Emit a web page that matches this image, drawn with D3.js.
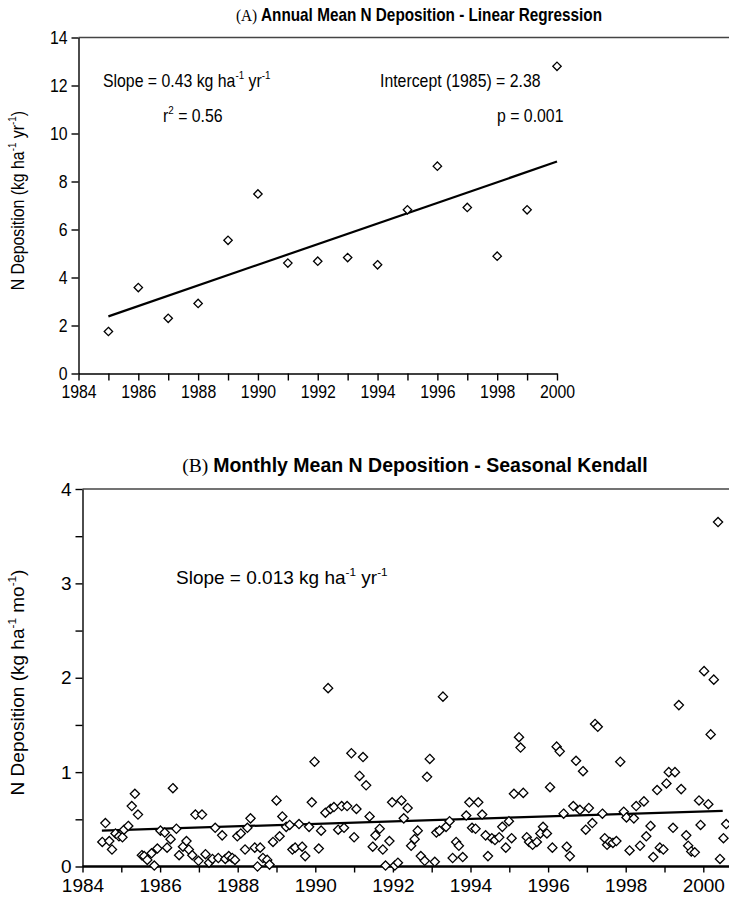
<!DOCTYPE html>
<html>
<head>
<meta charset="utf-8">
<title>N deposition</title>
<script src="https://cdn.jsdelivr.net/npm/d3@7"></script>
<style>
  body { margin: 0; background: #fff; }
  svg { display: block; }
  text { font-family: "Liberation Sans", Arial, sans-serif; fill: #000; }
</style>
</head>
<body>
<script>
// ---- data: annual means (panel A)
const annualYears = [1985, 1986, 1987, 1988, 1989, 1990, 1991, 1992, 1993, 1994, 1995, 1996, 1997, 1998, 1999, 2000];
const annualValues = [1.75, 3.58, 2.30, 2.92, 5.55, 7.48, 4.60, 4.68, 4.83, 4.53, 6.82, 8.64, 6.92, 4.89, 6.82, 12.80];
const trendAYears = [1985, 2000];
const trendAValues = [2.38, 8.83];

// ---- data: monthly means (panel B), decimal year / value
const monthYears = [
  1984.51, 1984.59, 1984.69, 1984.76, 1984.85, 1984.94, 1985.03, 1985.07, 1985.18, 1985.27, 1985.35, 1985.43,
  1985.53, 1985.59, 1985.67, 1985.78, 1985.85, 1985.93, 1986.01, 1986.12, 1986.18, 1986.27, 1986.33, 1986.42,
  1986.49, 1986.59, 1986.68, 1986.74, 1986.83, 1986.91, 1986.99, 1987.08, 1987.17, 1987.26, 1987.35, 1987.42,
  1987.50, 1987.60, 1987.68, 1987.77, 1987.86, 1987.93, 1987.99, 1988.08, 1988.19, 1988.25, 1988.33, 1988.44,
  1988.51, 1988.58, 1988.65, 1988.76, 1988.82, 1988.91, 1989.00, 1989.08, 1989.15, 1989.25, 1989.34, 1989.41,
  1989.48, 1989.58, 1989.66, 1989.74, 1989.84, 1989.91, 1989.98, 1990.09, 1990.15, 1990.26, 1990.33, 1990.39,
  1990.48, 1990.59, 1990.68, 1990.74, 1990.82, 1990.93, 1991.00, 1991.06, 1991.14, 1991.23, 1991.31, 1991.40,
  1991.48, 1991.55, 1991.66, 1991.74, 1991.81, 1991.91, 1991.98, 1992.05, 1992.13, 1992.22, 1992.28, 1992.38,
  1992.47, 1992.56, 1992.64, 1992.72, 1992.82, 1992.88, 1992.95, 1993.08, 1993.12, 1993.20, 1993.29, 1993.37,
  1993.46, 1993.54, 1993.63, 1993.70, 1993.80, 1993.89, 1993.97, 1994.04, 1994.13, 1994.20, 1994.30, 1994.39,
  1994.45, 1994.55, 1994.63, 1994.74, 1994.82, 1994.91, 1994.99, 1995.06, 1995.12, 1995.25, 1995.29, 1995.36,
  1995.45, 1995.51, 1995.60, 1995.71, 1995.80, 1995.87, 1995.97, 1996.05, 1996.11, 1996.22, 1996.30, 1996.40,
  1996.48, 1996.56, 1996.65, 1996.72, 1996.82, 1996.90, 1996.97, 1997.05, 1997.14, 1997.21, 1997.28, 1997.40,
  1997.46, 1997.52, 1997.59, 1997.67, 1997.76, 1997.86, 1997.95, 1998.02, 1998.10, 1998.21, 1998.27, 1998.37,
  1998.47, 1998.53, 1998.64, 1998.71, 1998.81, 1998.88, 1998.97, 1999.05, 1999.11, 1999.22, 1999.27, 1999.37,
  1999.43, 1999.56, 1999.61, 1999.69, 1999.78, 1999.89, 1999.93, 2000.02, 2000.13, 2000.19, 2000.27, 2000.38,
  2000.43, 2000.52, 2000.59
];
const monthValues = [
  0.26, 0.46, 0.27, 0.18, 0.35, 0.32, 0.31, 0.39, 0.43, 0.64, 0.77, 0.55,
  0.12, 0.11, 0.07, 0.14, 0.01, 0.19, 0.38, 0.36, 0.20, 0.29, 0.83, 0.40,
  0.12, 0.21, 0.27, 0.18, 0.12, 0.55, 0.06, 0.55, 0.13, 0.04, 0.08, 0.41,
  0.09, 0.33, 0.08, 0.11, 0.09, 0.07, 0.32, 0.35, 0.18, 0.41, 0.51, 0.20,
  0.00, 0.20, 0.09, 0.07, 0.02, 0.26, 0.70, 0.32, 0.53, 0.42, 0.44, 0.18,
  0.20, 0.45, 0.21, 0.11, 0.42, 0.68, 1.11, 0.19, 0.38, 0.57, 1.89, 0.61,
  0.63, 0.39, 0.64, 0.41, 0.64, 1.20, 0.31, 0.61, 0.96, 1.16, 0.86, 0.53,
  0.21, 0.33, 0.40, 0.18, 0.01, 0.27, 0.68, 0.01, 0.04, 0.70, 0.51, 0.62,
  0.22, 0.29, 0.38, 0.11, 0.06, 0.95, 1.14, 0.05, 0.36, 0.38, 1.80, 0.42,
  0.48, 0.09, 0.26, 0.22, 0.10, 0.54, 0.68, 0.41, 0.40, 0.68, 0.55, 0.33,
  0.11, 0.30, 0.28, 0.31, 0.42, 0.20, 0.48, 0.30, 0.77, 1.37, 1.26, 0.78,
  0.31, 0.26, 0.23, 0.26, 0.35, 0.42, 0.35, 0.84, 0.20, 1.27, 1.22, 0.56,
  0.21, 0.11, 0.64, 1.12, 0.60, 1.01, 0.39, 0.62, 0.46, 1.51, 1.48, 0.56,
  0.30, 0.23, 0.26, 0.25, 0.27, 1.11, 0.58, 0.52, 0.17, 0.51, 0.64, 0.22,
  0.69, 0.32, 0.43, 0.10, 0.81, 0.20, 0.18, 0.88, 1.00, 0.41, 1.00, 1.71,
  0.82, 0.33, 0.22, 0.16, 0.15, 0.70, 0.44, 2.07, 0.66, 1.40, 1.98, 3.65,
  0.08, 0.30, 0.45
];
const trendBYears = [1984.5, 2000.5];
const trendBValues = [0.38, 0.59];

const yearTicks = d3.range(1984, 2001);

const svg = d3.select("body").append("svg")
  .attr("width", 729)
  .attr("height", 902);

// write text with superscript pieces
function richText(sel, parts, size) {
  parts.forEach(function(p) {
    const t = sel.append("tspan").text(p[0]);
    if (p[1] === "up") t.attr("dy", -size * 0.42).attr("font-size", size * 0.62);
    if (p[1] === "down") t.attr("dy", size * 0.42);
  });
}

// panel A text in the scan is tall and narrow: squeeze horizontally
function squeeze(sel, sx) {
  sel.each(function() {
    const t = d3.select(this);
    const x = +t.attr("x") || 0, y = +t.attr("y") || 0;
    t.attr("x", 0).attr("y", 0)
      .attr("transform", "translate(" + x + "," + y + ") scale(" + sx + ",1)");
  });
}

function diamond(r) {
  return "M0," + (-r) + "L" + r + ",0L0," + r + "L" + (-r) + ",0Z";
}

// ================= Panel A =================
const fA = 18, sxA = 0.88;
const xA = d3.scaleLinear().domain([1984, 2000]).range([78.5, 557]);
const yA = d3.scaleLinear().domain([0, 14]).range([373.5, 37.5]);
const gA = svg.append("g");

const tA = gA.append("text").attr("x", 419).attr("y", 21).attr("text-anchor", "middle");
tA.append("tspan").attr("font-family", "Liberation Serif, Times New Roman, serif").attr("font-size", 17.5).text("(A) ");
tA.append("tspan").attr("font-weight", "bold").attr("font-size", 17.5).text("Annual Mean N Deposition - Linear Regression");
squeeze(tA, 0.875);

gA.append("line").attr("x1", xA(1984)).attr("x2", 729)
  .attr("y1", yA(14)).attr("y2", yA(14))
  .attr("stroke", "#444").attr("stroke-width", 1.5);

gA.append("g")
  .attr("transform", "translate(" + xA(1984) + ",0)")
  .call(d3.axisLeft(yA).tickValues(d3.range(0, 15, 2)).tickSize(7).tickSizeOuter(0).tickPadding(4))
  .call(function(g) {
    g.selectAll("text").attr("font-size", fA).attr("font-family", "Liberation Sans, Arial, sans-serif");
    g.selectAll("line, path").attr("stroke", "#000").attr("stroke-width", 1.4);
    squeeze(g.selectAll("text"), sxA);
  });

gA.append("g")
  .attr("transform", "translate(0," + yA(0) + ")")
  .call(d3.axisBottom(xA).tickValues(yearTicks).tickSize(7).tickSizeOuter(0).tickPadding(5)
    .tickFormat(function(d) { return d % 2 === 0 ? d : ""; }))
  .call(function(g) {
    g.selectAll("text").attr("font-size", fA).attr("font-family", "Liberation Sans, Arial, sans-serif");
    g.selectAll("line, path").attr("stroke", "#000").attr("stroke-width", 1.4);
    squeeze(g.selectAll("text"), sxA);
  });

const ytA = gA.append("text")
  .attr("transform", "translate(24," + yA(7.2) + ") rotate(-90) scale(" + sxA + ",1)")
  .attr("text-anchor", "middle").attr("font-size", fA);
richText(ytA, [["N Deposition (kg ha", ""], ["-1", "up"], [" yr", "down"], ["-1", "up"], [")", "down"]], fA);

gA.append("line")
  .attr("x1", xA(trendAYears[0])).attr("y1", yA(trendAValues[0]))
  .attr("x2", xA(trendAYears[1])).attr("y2", yA(trendAValues[1]))
  .attr("stroke", "#000").attr("stroke-width", 2.2);

gA.selectAll("path.pt")
  .data(annualYears)
  .enter().append("path")
  .attr("class", "pt")
  .attr("d", diamond(4.2))
  .attr("transform", function(d, i) { return "translate(" + xA(d) + "," + yA(annualValues[i]) + ")"; })
  .attr("fill", "#fff").attr("stroke", "#000").attr("stroke-width", 1.3);

const sA = gA.append("text").attr("x", 103).attr("y", 87).attr("font-size", fA);
richText(sA, [["Slope = 0.43 kg ha", ""], ["-1", "up"], [" yr", "down"], ["-1", "up"]], fA);
const iA = gA.append("text").attr("x", 380).attr("y", 87).attr("font-size", fA).text("Intercept (1985) = 2.38");
const rA = gA.append("text").attr("x", 163).attr("y", 122).attr("font-size", fA);
richText(rA, [["r", ""], ["2", "up"], [" = 0.56", "down"]], fA);
const pA = gA.append("text").attr("x", 497).attr("y", 122).attr("font-size", fA).text("p = 0.001");
[sA, iA, rA, pA].forEach(function(t) { squeeze(t, sxA); });

// ================= Panel B =================
const fB = 19;
const xB = d3.scaleLinear().domain([1984, 2000]).range([82.5, 703.3]);
const yB = d3.scaleLinear().domain([0, 4]).range([866.5, 489]);
const gB = svg.append("g");

const tB = gB.append("text").attr("x", 415).attr("y", 472).attr("text-anchor", "middle");
tB.append("tspan").attr("font-family", "Liberation Serif, Times New Roman, serif").attr("font-size", 19.5).text("(B) ");
tB.append("tspan").attr("font-weight", "bold").attr("font-size", 19.5).text("Monthly Mean N Deposition - Seasonal Kendall");

gB.append("line").attr("x1", xB(1984)).attr("x2", 729)
  .attr("y1", yB(4)).attr("y2", yB(4))
  .attr("stroke", "#444").attr("stroke-width", 1.5);

gB.append("g")
  .attr("transform", "translate(" + xB(1984) + ",0)")
  .call(d3.axisLeft(yB).tickValues(d3.range(0, 4.01, 0.5)).tickSize(7).tickSizeOuter(0).tickPadding(4)
    .tickFormat(function(d) { return d % 1 === 0 ? d : ""; }))
  .call(function(g) {
    g.selectAll("text").attr("font-size", fB).attr("font-family", "Liberation Sans, Arial, sans-serif");
    g.selectAll("line, path").attr("stroke", "#000").attr("stroke-width", 1.4);
  });

gB.append("g")
  .attr("transform", "translate(0," + yB(0) + ")")
  .call(d3.axisBottom(xB).tickValues(yearTicks).tickSize(6).tickSizeOuter(0).tickPadding(6)
    .tickFormat(function(d) { return d % 2 === 0 ? d : ""; }))
  .call(function(g) {
    g.selectAll("text").attr("font-size", fB).attr("font-family", "Liberation Sans, Arial, sans-serif");
    g.selectAll("line").attr("stroke", "#000").attr("stroke-width", 1.4);
    g.select("path").remove();
  });
gB.append("line").attr("x1", xB(1984)).attr("x2", 729)
  .attr("y1", yB(0)).attr("y2", yB(0))
  .attr("stroke", "#000").attr("stroke-width", 2.4);

const ytB = gB.append("text")
  .attr("transform", "translate(24," + yB(1.95) + ") rotate(-90)")
  .attr("text-anchor", "middle").attr("font-size", fB);
richText(ytB, [["N Deposition (kg ha", ""], ["-1", "up"], [" mo", "down"], ["-1", "up"], [")", "down"]], fB);

gB.append("line")
  .attr("x1", xB(trendBYears[0])).attr("y1", yB(trendBValues[0]))
  .attr("x2", xB(trendBYears[1])).attr("y2", yB(trendBValues[1]))
  .attr("stroke", "#000").attr("stroke-width", 2.2);

gB.selectAll("path.pt")
  .data(monthYears)
  .enter().append("path")
  .attr("class", "pt")
  .attr("d", diamond(4.6))
  .attr("transform", function(d, i) { return "translate(" + xB(d) + "," + yB(monthValues[i]) + ")"; })
  .attr("fill", "#fff").attr("stroke", "#000").attr("stroke-width", 1.3);

const sB = gB.append("text").attr("x", 176).attr("y", 584).attr("font-size", fB);
richText(sB, [["Slope = 0.013 kg ha", ""], ["-1", "up"], [" yr", "down"], ["-1", "up"]], fB);
</script>
</body>
</html>
